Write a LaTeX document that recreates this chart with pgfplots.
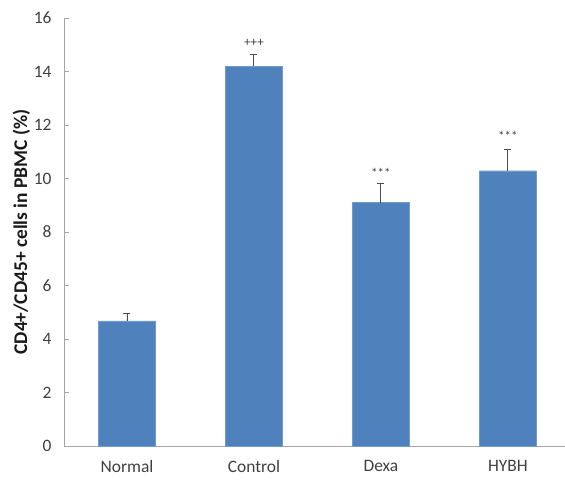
\documentclass[border=0pt]{standalone}
\usepackage{pgfplots}
\pgfplotsset{compat=1.18}
\usepackage{fontspec}
\setmainfont{Carlito}
\definecolor{barblue}{HTML}{4F81BD}
\definecolor{axgray}{HTML}{A6A6A6}
\definecolor{txt}{HTML}{404040}
\begin{document}
\begin{tikzpicture}
\begin{axis}[
  scale only axis, width=501bp, height=428bp,
  xmin=-0.496, xmax=3.45, ymin=0, ymax=16,
  axis x line=bottom, axis y line=left,
  axis line style={axgray, line width=0.8pt, -},
  ytick={0,2,...,16},
  ytick style={axgray, line width=0.8pt},
  major tick length=5bp,
  tick align=inside,
  xtick={0,1,2,3},
  xticklabels={Normal,Control,Dexa,HYBH},
  x tick style={draw=none},
  extra x ticks={0.5,1.5,2.5},
  extra x tick labels={},
  extra x tick style={tick style={axgray, line width=0.8pt, draw=axgray}, major tick length=5bp},
  /pgf/number format/assume math mode=true,
  ticklabel style={font=\fontsize{17.5}{20}\selectfont, text=txt},
  yticklabel style={xshift=-9bp},
  xticklabel style={yshift=-11bp},
  ylabel={\textbf{CD4+/CD45+ cells in PBMC (\%)}},
  ylabel style={font=\fontsize{19.5}{22}\selectfont, text=black!90},
  ylabel shift=-3bp,
  clip=false,
]
\addplot[ybar, bar width=57bp, fill=barblue, draw=barblue!80!white,
  error bars/.cd, y dir=plus, y explicit,
  error bar style={black!70, line width=0.9pt},
  error mark options={rotate=90, mark size=3.5bp, black!70, line width=0.9pt}]
  table[x=x, y=y, y error=e] {
x y e
0 4.68 0.29
1 14.2 0.42
2 9.1 0.72
3 10.29 0.78
};
\addplot[only marks, mark=none, nodes near coords, point meta=explicit symbolic,
  every node near coord/.style={font=\fontsize{13}{14}\selectfont, text=black!75, anchor=center}]
  table[x=x, y=y, meta=t] {
x y t
1 15.05 +++
2 10.22 ***
3 11.6 ***
};
\coordinate (sw) at (rel axis cs:0,0);
\coordinate (ne) at (rel axis cs:1,1);
\end{axis}
\pgfresetboundingbox
\path[use as bounding box] ([shift={(-64bp,-42bp)}]sw) rectangle ([shift={(0bp,18bp)}]ne);
\end{tikzpicture}
\end{document}
